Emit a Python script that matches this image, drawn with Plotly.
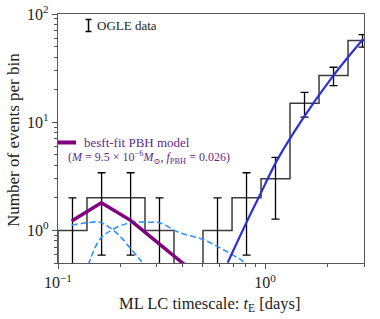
import numpy as np
import plotly.graph_objects as go

# ---- data ----
bin_edges = [0.1, 0.138, 0.191, 0.263, 0.363, 0.501, 0.692, 0.955, 1.318, 1.820, 2.512, 3.467]
counts = [1, 2, 2, 1, 0, 1, 2, 3, 15, 27, 57]
count_err = [1.0, 1.41, 1.41, 1.0, 0.0, 1.0, 1.41, 1.73, 3.87, 5.20, 7.55]

pbh_t = [0.1164, 0.162, 0.224, 0.309, 0.427]
pbh_n = [1.22, 1.80, 1.24, 0.75, 0.45]

dash1_t = [0.1164, 0.135, 0.159, 0.178, 0.199, 0.224, 0.248, 0.258]
dash1_n = [1.12, 1.17, 1.19, 1.06, 0.886, 0.68, 0.541, 0.49]

dash2_t = [0.140, 0.159, 0.178, 0.222, 0.277, 0.309, 0.386, 0.50, 0.624, 0.778, 0.80]
dash2_n = [0.48, 0.826, 0.986, 1.178, 1.19, 1.178, 0.953, 0.826, 0.668, 0.521, 0.49]

fit_t = [0.659, 0.808, 0.936, 1.146, 1.54, 2.107, 2.98]
fit_n = [0.504, 1.16, 2.06, 4.51, 11.2, 26.1, 59.0]

xtick_vals = [0.1, 1]
xtick_text = ["10<sup>\u22121</sup>", "10<sup>0</sup>"]
ytick_vals = [1, 10, 100]
ytick_text = ["10<sup>0</sup>", "10<sup>1</sup>", "10<sup>2</sup>"]
x_minor = [0.2, 0.3, 0.4, 0.5, 0.6, 0.7, 0.8, 0.9, 2, 3]
y_minor = [0.5, 0.6, 0.7, 0.8, 0.9, 2, 3, 4, 5, 6, 7, 8, 9, 20, 30, 40, 50, 60, 70, 80, 90]

# ---- derived plotting arrays ----
edges = np.array(bin_edges)
centers = np.sqrt(edges[:-1] * edges[1:])
floor = 1e-2
step_x = [edges[0]] + list(edges)
step_y = [floor] + [c if c > 0 else floor for c in counts] + [counts[-1]]

err_y = [c if c > 0 else None for c in counts]

FONT = "Liberation Serif, DejaVu Serif, serif"
PURPLE = "#800080"
TXT_PURPLE = "#5e2a8c"
TXT = "#222222"

fig = go.Figure()

fig.add_trace(go.Scatter(x=step_x, y=step_y, mode="lines", line_shape="hv",
                         line=dict(color="#3c3c3c", width=1.5), showlegend=False))

fig.add_trace(go.Scatter(x=centers, y=err_y, mode="markers",
                         marker=dict(size=0.1, color="black", opacity=0),
                         error_y=dict(type="data", array=count_err, arrayminus=count_err,
                                      color="black", thickness=1.3, width=4, visible=True),
                         showlegend=False))

fig.add_trace(go.Scatter(x=dash1_t, y=dash1_n, mode="lines", line_shape="spline",
                         line=dict(color="#2f93ff", width=1.6, dash="6px,3px"), showlegend=False))
fig.add_trace(go.Scatter(x=dash2_t, y=dash2_n, mode="lines", line_shape="spline",
                         line=dict(color="#2f93ff", width=1.6, dash="6px,3px"), showlegend=False))

fig.add_trace(go.Scatter(x=pbh_t, y=pbh_n, mode="lines",
                         line=dict(color=PURPLE, width=3.5), showlegend=False))

fig.add_trace(go.Scatter(x=fit_t, y=fit_n, mode="lines", line_shape="spline",
                         line=dict(color="#2f2fd6", width=2.2), showlegend=False))

axis_common = dict(type="log", showgrid=False, zeroline=False, showline=True, mirror=True,
                   linecolor="#555555", linewidth=1.2, ticks="outside", ticklen=5,
                   tickwidth=1, tickcolor="#555555", automargin=False,
                   tickfont=dict(family=FONT, size=16, color=TXT))

fig.update_xaxes(**axis_common, range=[-1, np.log10(3)],
                 tickmode="array", tickvals=xtick_vals, ticktext=xtick_text,
                 minor=dict(tickmode="array", tickvals=x_minor, ticks="outside",
                            ticklen=3, tickcolor="#555555", showgrid=False))
fig.update_yaxes(**axis_common, range=[np.log10(0.5), 2],
                 tickmode="array", tickvals=ytick_vals, ticktext=ytick_text,
                 minor=dict(tickmode="array", tickvals=y_minor, ticks="outside",
                            ticklen=3, tickcolor="#555555", showgrid=False))

# legend drawn as decorations in paper coordinates
shapes = [
    dict(type="line", xref="paper", yref="paper", x0=0.0997, x1=0.0997, y0=0.9297, y1=0.978,
         line=dict(color="black", width=1.5)),
    dict(type="line", xref="paper", yref="paper", x0=0.0899, x1=0.1095, y0=0.978, y1=0.978,
         line=dict(color="black", width=1.5)),
    dict(type="line", xref="paper", yref="paper", x0=0.0899, x1=0.1095, y0=0.9297, y1=0.9297,
         line=dict(color="black", width=1.5)),
    dict(type="line", xref="paper", yref="paper", x0=0.0, x1=0.0588, y0=0.484, y1=0.484,
         line=dict(color=PURPLE, width=4)),
]
annotations = [
    dict(xref="paper", yref="paper", x=0.121, y=0.953, xanchor="left", yanchor="middle",
         text="OGLE data", showarrow=False, font=dict(family=FONT, size=13, color=TXT)),
    dict(xref="paper", yref="paper", x=0.078, y=0.484, xanchor="left", yanchor="middle",
         text="besft-fit PBH model", showarrow=False,
         font=dict(family=FONT, size=13, color=TXT_PURPLE)),
    dict(xref="paper", yref="paper", x=0.026, y=0.4217, xanchor="left", yanchor="middle",
         text="(<i>M</i> = 9.5 \u00d7 10<sup>\u22126</sup><i>M</i><sub>\u2299</sub>, <i>f</i><sub>PBH</sub> = 0.026)",
         showarrow=False, font=dict(family=FONT, size=12, color=TXT_PURPLE)),
    # axis titles
    dict(xref="paper", yref="paper", x=0.497, y=-0.165, xanchor="center", yanchor="middle",
         text="ML LC timescale: <i>t</i><sub>E</sub> [days]", showarrow=False,
         font=dict(family=FONT, size=16.5, color=TXT)),
    dict(xref="paper", yref="paper", x=-0.1438, y=0.494, xanchor="center", yanchor="middle",
         text="Number of events per bin", textangle=-90, showarrow=False,
         font=dict(family=FONT, size=17, color=TXT)),
]

fig.update_layout(width=380, height=319, margin=dict(l=58, r=16, t=14, b=56),
                  plot_bgcolor="white", paper_bgcolor="white",
                  shapes=shapes, annotations=annotations, showlegend=False)

fig.write_html("out.html", config={"displayModeBar": False},
               post_script="document.body.style.margin='0px';document.body.style.padding='0px';")
